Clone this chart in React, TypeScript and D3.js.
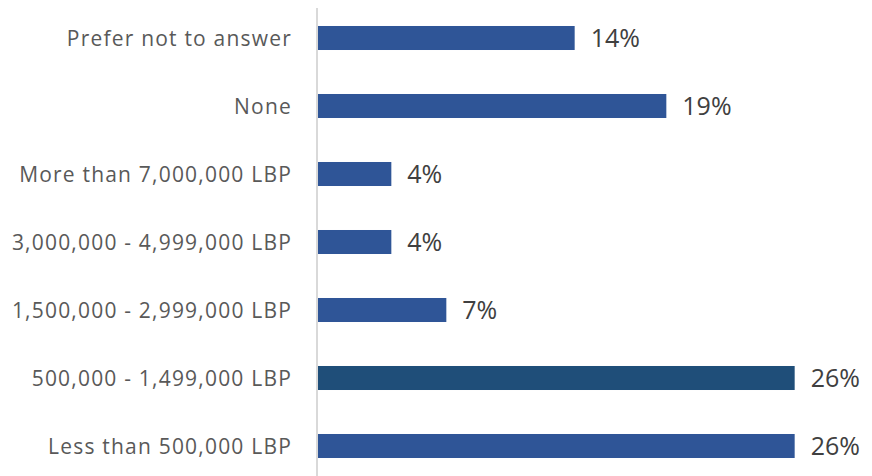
import React, { useEffect, useRef } from 'react';
import * as d3 from 'd3';

// income categories, top to bottom
const categories = [
  'Prefer not to answer',
  'None',
  'More than 7,000,000 LBP',
  '3,000,000 - 4,999,000 LBP',
  '1,500,000 - 2,999,000 LBP',
  '500,000 - 1,499,000 LBP',
  'Less than 500,000 LBP',
];
const shares = [0.14, 0.19, 0.04, 0.04, 0.07, 0.26, 0.26];
const highlighted = ['500,000 - 1,499,000 LBP'];

const App = () => {
  const chartRef = useRef<SVGSVGElement>(null);

  useEffect(() => {
    const svg = d3.select(chartRef.current);
    svg.selectAll('*').remove();

    const width = 872;
    const height = 476;
    const margin = { top: 4, right: 4, bottom: -4, left: 318 };

    const data = categories.map((c, i) => ({ cat: c, value: shares[i] }));

    const x = d3.scaleLinear()
      .domain([0, 0.3])
      .range([margin.left, margin.left + 550]);

    const y = d3.scaleBand()
      .domain(categories)
      .range([margin.top, height - margin.bottom])
      .paddingInner(0.647)
      .paddingOuter(0.3235);

    svg.selectAll('rect.bar')
      .data(data)
      .enter().append('rect')
      .attr('class', 'bar')
      .attr('x', x(0))
      .attr('y', d => y(d.cat)!)
      .attr('width', d => x(d.value) - x(0))
      .attr('height', y.bandwidth())
      .style('fill', d => highlighted.includes(d.cat) ? '#1F4E79' : '#2F5597');

    // vertical category axis line
    svg.append('line')
      .attr('x1', x(0) - 1)
      .attr('x2', x(0) - 1)
      .attr('y1', 8)
      .attr('y2', height)
      .attr('stroke', '#D9D9D9')
      .attr('stroke-width', 2);

    svg.selectAll('text.cat')
      .data(data)
      .enter().append('text')
      .attr('class', 'cat')
      .attr('x', x(0) - 26)
      .attr('y', d => y(d.cat)! + y.bandwidth() / 2)
      .attr('dy', '0.36em')
      .attr('text-anchor', 'end')
      .style('font-family', '"Open Sans", sans-serif')
      .style('font-size', '21px')
      .style('letter-spacing', '1.2px')
      .style('fill', '#595959')
      .text(d => d.cat);

    svg.selectAll('text.val')
      .data(data)
      .enter().append('text')
      .attr('class', 'val')
      .attr('x', d => x(d.value) + 16)
      .attr('y', d => y(d.cat)! + y.bandwidth() / 2)
      .attr('dy', '0.36em')
      .style('font-family', '"Open Sans", sans-serif')
      .style('font-size', '25px')
      .style('fill', '#404040')
      .text(d => d3.format('.0%')(d.value));
  }, []);

  return (
    <svg
      ref={chartRef}
      width={872}
      height={476}
      style={{ position: 'absolute', left: 0, top: 0, background: '#fff' }}
    />
  );
};

export default App;
